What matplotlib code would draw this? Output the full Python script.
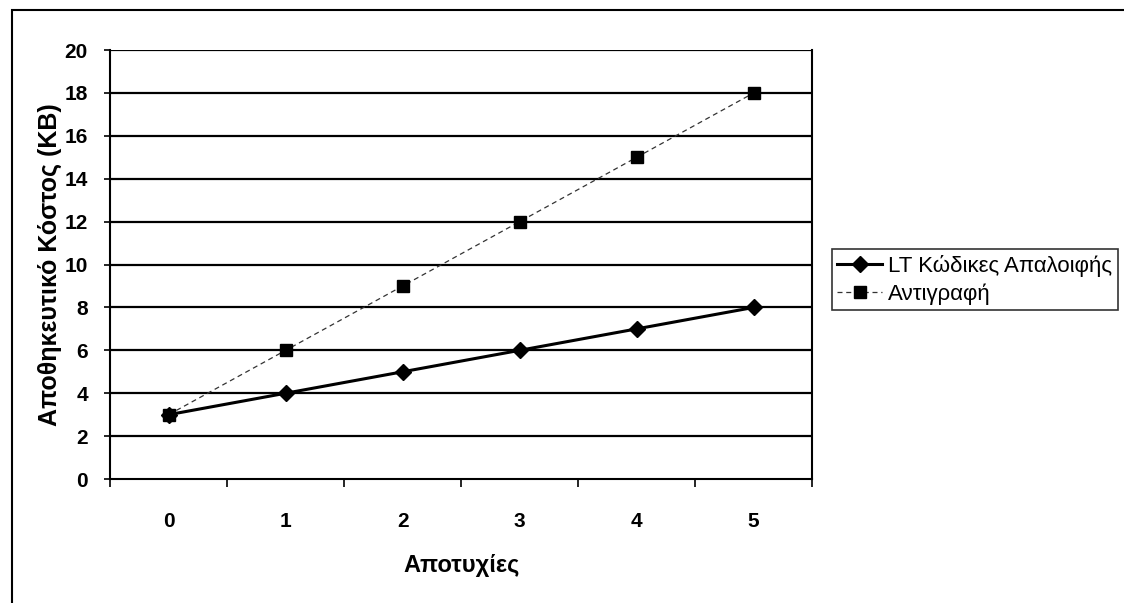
import matplotlib.pyplot as plt
from matplotlib.patches import Rectangle
from matplotlib.ticker import MultipleLocator, FixedLocator

plt.rcParams['font.family'] = ['Liberation Sans', 'DejaVu Sans']

failures = [0, 1, 2, 3, 4, 5]
lt_codes = [3, 4, 5, 6, 7, 8]
replication = [3, 6, 9, 12, 15, 18]
y_ticks = list(range(0, 21, 2))

fig = plt.figure(figsize=(11.24, 6.03), dpi=100)
ax = fig.add_axes([0.098, 0.2056, 0.6246, 0.7114])

for y in y_ticks[1:]:
    ax.axhline(y, color="black", lw=1.6, zorder=1)

ax.plot(failures, lt_codes, color="black", lw=2.2, marker="D", ms=8,
        label="LT Κώδικες Απαλοιφής", zorder=3)
ax.plot(failures, replication, color="#333333", lw=0.9, ls=(0, (4, 3)),
        marker="s", ms=8, mfc="black", mec="black",
        label="Αντιγραφή", zorder=2)

ax.set_xlim(-0.5, 5.5)
ax.set_ylim(0, 20)
ax.xaxis.set_major_locator(FixedLocator([x - 0.5 for x in failures] + [5.5]))
ax.xaxis.set_minor_locator(FixedLocator(failures))
ax.set_xticklabels([])
ax.set_xticklabels([str(x) for x in failures], minor=True)
ax.tick_params(axis="x", which="major", direction="out", length=6, width=1.2)
ax.tick_params(axis="x", which="minor", length=0, pad=24, labelsize=15)
ax.yaxis.set_major_locator(MultipleLocator(2))
ax.tick_params(axis="y", direction="out", length=4, width=1.2, pad=12, labelsize=15)
for lab in ax.get_xticklabels(minor=True) + ax.get_yticklabels():
    lab.set_fontweight("bold")

for side in ["left", "bottom", "right"]:
    ax.spines[side].set_linewidth(1.5)
ax.spines["top"].set_visible(False)

ax.set_xlabel("Αποτυχίες", fontsize=17, fontweight="bold", labelpad=16)
ax.set_ylabel("Αποθηκευτικό Κόστος (KB)", fontsize=18, fontweight="bold", labelpad=2)

leg = fig.legend(loc="upper left", bbox_to_anchor=(0.740, 0.587), fontsize=16,
                 frameon=True, fancybox=False, edgecolor="black",
                 handlelength=2.0, handletextpad=0.3, borderpad=0.25,
                 labelspacing=0.3, borderaxespad=0)
leg.get_frame().set_linewidth(1.2)

fig.patches.append(Rectangle((0.011, -0.01), 1.0, 0.994, transform=fig.transFigure,
                             fill=False, ec="black", lw=1.5))

fig.savefig("out.png", dpi=100)
